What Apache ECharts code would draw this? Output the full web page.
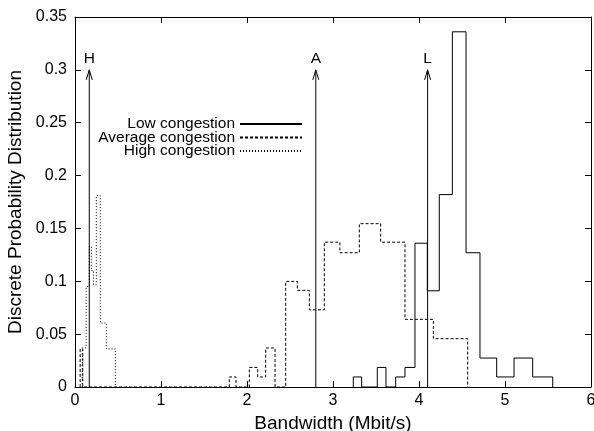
<!DOCTYPE html>
<html>
<head>
<meta charset="utf-8">
<script src="https://cdn.jsdelivr.net/npm/echarts@6/dist/echarts.min.js"></script>
<style>
html,body{margin:0;padding:0;background:#fff;}
#chart{width:594px;height:431px;}
</style>
</head>
<body>
<div id="chart"></div>
<script>
// ---- data ----
// Low congestion histogram: bin edges and bin values
var lowEdges = [3.236, 3.333, 3.515, 3.616, 3.729, 3.837, 3.953, 4.097, 4.236, 4.388, 4.547, 4.709, 4.903, 5.105, 5.322, 5.555];
var lowValues = [0.0095, 0, 0.0185, 0, 0.0095, 0.0185, 0.136, 0.091, 0.182, 0.336, 0.127, 0.0274, 0.0095, 0.0274, 0.0095];
// Average congestion histogram
var avgEdges = [0.06, 0.09, 1.794, 1.872, 2.027, 2.124, 2.217, 2.326, 2.450, 2.585, 2.725, 2.899, 3.081, 3.306, 3.554, 3.837, 4.167, 4.566];
var avgValues = [0.036, 0, 0.0095, 0, 0.0185, 0.0095, 0.0369, 0, 0.0999, 0.0914, 0.073, 0.137, 0.127, 0.1545, 0.137, 0.064, 0.0457];
// High congestion histogram
var highEdges = [0.085, 0.13, 0.166, 0.19, 0.215, 0.248, 0.294, 0.364, 0.469];
var highValues = [0.037, 0.095, 0.133, 0.11, 0.097, 0.181, 0.0605, 0.036];
// Marker arrows
var arrowLabels = ['H', 'A', 'L'];
var arrowX = [0.166, 2.80, 4.10];
var arrowTop = 0.30;
// Axis ticks
var xTicks = [0, 1, 2, 3, 4, 5, 6];
var yTicks = [0, 0.05, 0.1, 0.15, 0.2, 0.25, 0.3, 0.35];

var seriesNames = ['Low congestion', 'Average congestion', 'High congestion'];

function stepPoints(edges, values) {
  var pts = [[edges[0], 0]];
  for (var i = 0; i < values.length; i++) {
    pts.push([edges[i], values[i]]);
    pts.push([edges[i + 1], values[i]]);
  }
  pts.push([edges[edges.length - 1], 0]);
  return pts;
}

var FONT = 'Liberation Sans';
var chart = echarts.init(document.getElementById('chart'), null, {renderer: 'canvas'});

function axisCommon() {
  return {
    axisLine: {show: true, onZero: false, lineStyle: {color: '#000', width: 1}},
    axisTick: {show: true, inside: true, length: 6, lineStyle: {color: '#000', width: 1}},
    splitLine: {show: false}
  };
}

var option = {
  animation: false,
  backgroundColor: '#fff',
  textStyle: {fontFamily: FONT},
  grid: {left: 75, right: 3, top: 17, bottom: 44, containLabel: false, outerBoundsMode: 'none'},
  legend: {
    data: seriesNames,
    orient: 'vertical',
    align: 'right',
    left: 92,
    top: 116,
    itemWidth: 62,
    itemHeight: 10,
    itemGap: -2.5,
    padding: 0,
    inactiveColor: '#000',
    itemStyle: {opacity: 0},
    textStyle: {fontFamily: FONT, fontSize: 15.5, color: '#000', width: 143, align: 'right', lineHeight: 13.5}
  },
  xAxis: [
    Object.assign(axisCommon(), {
      type: 'value', min: xTicks[0], max: xTicks[xTicks.length - 1], interval: 1,
      position: 'bottom',
      name: 'Bandwidth (Mbit/s)', nameLocation: 'middle', nameGap: 24,
      nameTextStyle: {fontFamily: FONT, fontSize: 19, color: '#000'},
      axisLabel: {fontFamily: FONT, fontSize: 16, color: '#000', margin: 6}
    }),
    Object.assign(axisCommon(), {
      type: 'value', min: xTicks[0], max: xTicks[xTicks.length - 1], interval: 1,
      position: 'top', axisLabel: {show: false}
    })
  ],
  yAxis: [
    Object.assign(axisCommon(), {
      type: 'value', min: yTicks[0], max: yTicks[yTicks.length - 1], interval: 0.05,
      position: 'left',
      name: 'Discrete Probability Distribution', nameLocation: 'middle', nameGap: 48, nameRotate: 90,
      nameTextStyle: {fontFamily: FONT, fontSize: 19, color: '#000'},
      axisLabel: {fontFamily: FONT, fontSize: 16, color: '#000', margin: 8}
    }),
    Object.assign(axisCommon(), {
      type: 'value', min: yTicks[0], max: yTicks[yTicks.length - 1], interval: 0.05,
      position: 'right', axisLabel: {show: false}
    })
  ],
  series: [
    {
      name: seriesNames[0], type: 'line', data: stepPoints(lowEdges, lowValues),
      symbol: 'none', color: '#000', lineStyle: {color: '#000', width: 1, type: 'solid'}, z: 3
    },
    {
      name: seriesNames[1], type: 'line', data: stepPoints(avgEdges, avgValues),
      symbol: 'none', color: '#000', lineStyle: {color: '#000', width: 1, type: [3, 2]}, z: 3
    },
    {
      name: seriesNames[2], type: 'line', data: stepPoints(highEdges, highValues),
      symbol: 'none', color: '#000', lineStyle: {color: '#000', width: 1, type: [1, 2]}, z: 3
    },
    {
      type: 'custom',
      data: arrowX.map(function (x, i) { return [x, arrowTop, i]; }),
      renderItem: function (params, api) {
        var x = api.value(0), top = api.value(1), idx = api.value(2);
        var p0 = api.coord([x, 0]);
        var p1 = api.coord([x, top]);
        return {
          type: 'group',
          children: [
            {type: 'line', shape: {x1: p0[0], y1: p0[1], x2: p1[0], y2: p1[1]}, style: {stroke: '#000', lineWidth: 1}},
            {type: 'polyline', shape: {points: [[p1[0] - 3, p1[1] + 10], [p1[0], p1[1]], [p1[0] + 3, p1[1] + 10]]}, style: {stroke: '#000', lineWidth: 1, fill: null}},
            {type: 'text', style: {text: arrowLabels[idx], x: p1[0], y: p1[1] - 11, align: 'center', verticalAlign: 'middle', fontFamily: FONT, fontSize: 15.5, fill: '#000'}}
          ]
        };
      },
      z: 4
    }
  ]
};
chart.setOption(option);
</script>
</body>
</html>
